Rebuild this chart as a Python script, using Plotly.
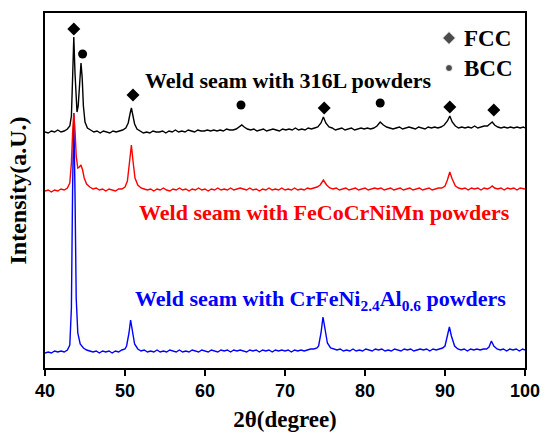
import plotly.graph_objects as go

# ---- data (2theta in degrees, intensity in arbitrary units incl. offset) ----
black_pts = [
    (40.0, 236), (40.4, 235), (40.8, 237), (41.2, 236), (41.6, 238), (42.0, 236), (42.4, 237), (42.8, 239),
    (43.1, 242), (43.3, 252), (43.45, 290), (43.6, 331), (43.75, 295), (43.9, 262), (44.0, 256), (44.15, 262),
    (44.3, 285), (44.5, 305), (44.65, 290), (44.8, 262), (45.0, 246), (45.3, 240), (45.7, 238), (46.1, 236),
    (46.5, 237), (46.9, 235), (47.3, 237), (47.7, 236), (48.1, 235), (48.5, 237), (48.9, 236), (49.3, 237),
    (49.7, 238), (50.1, 240), (50.4, 245), (50.65, 255), (50.8, 260), (50.95, 254), (51.2, 244), (51.5, 239),
    (51.9, 237), (52.3, 235), (52.7, 236), (53.1, 235), (53.5, 237), (53.9, 236), (54.3, 236), (54.7, 237),
    (55.1, 235), (55.5, 237), (55.9, 236), (56.3, 238), (56.7, 236), (57.1, 237), (57.5, 236), (57.9, 238),
    (58.3, 237), (58.7, 236), (59.1, 238), (59.5, 237), (59.9, 237), (60.3, 238), (60.7, 237), (61.1, 238),
    (61.5, 237), (61.9, 238), (62.3, 237), (62.7, 239), (63.1, 238), (63.5, 238), (63.9, 239), (64.3, 241),
    (64.6, 243), (64.9, 241), (65.3, 239), (65.7, 238), (66.1, 239), (66.5, 237), (66.9, 238), (67.3, 239),
    (67.7, 237), (68.1, 238), (68.5, 239), (68.9, 238), (69.3, 237), (69.7, 239), (70.1, 238), (70.5, 239),
    (70.9, 238), (71.3, 240), (71.7, 238), (72.1, 239), (72.5, 238), (72.9, 240), (73.3, 239), (73.7, 240),
    (74.1, 241), (74.5, 245), (74.8, 251), (75.1, 245), (75.5, 241), (75.9, 240), (76.3, 238), (76.7, 239),
    (77.1, 240), (77.5, 238), (77.9, 239), (78.3, 240), (78.7, 238), (79.1, 239), (79.5, 240), (79.9, 239),
    (80.3, 240), (80.7, 239), (81.1, 240), (81.5, 242), (81.9, 246), (82.3, 243), (82.7, 241), (83.1, 240),
    (83.5, 239), (83.9, 240), (84.3, 241), (84.7, 239), (85.1, 240), (85.5, 241), (85.9, 240), (86.3, 239),
    (86.7, 241), (87.1, 240), (87.5, 239), (87.9, 241), (88.3, 240), (88.7, 241), (89.1, 240), (89.5, 241),
    (89.9, 243), (90.3, 247), (90.6, 252), (90.9, 246), (91.3, 242), (91.7, 240), (92.1, 241), (92.5, 240),
    (92.9, 241), (93.3, 240), (93.7, 242), (94.1, 240), (94.5, 241), (94.9, 242), (95.3, 242), (95.6, 244),
    (95.9, 246), (96.2, 243), (96.6, 241), (97.0, 240), (97.4, 241), (97.8, 240), (98.2, 241), (98.6, 240),
    (99.0, 241), (99.4, 240), (99.8, 241), (100.0, 240),
]

red_pts = [
    (40.0, 177), (40.4, 178), (40.8, 176), (41.2, 178), (41.6, 177), (42.0, 179), (42.4, 178), (42.8, 180),
    (43.1, 185), (43.3, 205), (43.45, 235), (43.6, 255), (43.75, 238), (43.9, 212), (44.1, 200), (44.3, 201),
    (44.5, 203), (44.7, 198), (44.9, 190), (45.2, 184), (45.6, 181), (46.0, 179), (46.4, 180), (46.8, 178),
    (47.2, 179), (47.6, 177), (48.0, 179), (48.4, 178), (48.8, 177), (49.2, 179), (49.6, 179), (50.0, 181),
    (50.3, 187), (50.55, 205), (50.8, 223), (51.0, 207), (51.25, 190), (51.6, 183), (52.0, 180), (52.4, 179),
    (52.8, 178), (53.2, 179), (53.6, 177), (54.0, 179), (54.4, 178), (54.8, 180), (55.2, 178), (55.6, 177),
    (56.0, 179), (56.4, 178), (56.8, 180), (57.2, 178), (57.6, 179), (58.0, 177), (58.4, 179), (58.8, 178),
    (59.2, 180), (59.6, 178), (60.0, 179), (60.4, 177), (60.8, 179), (61.2, 178), (61.6, 180), (62.0, 178),
    (62.4, 179), (62.8, 178), (63.2, 180), (63.6, 178), (64.0, 179), (64.4, 180), (64.8, 179), (65.2, 178),
    (65.6, 180), (66.0, 178), (66.4, 179), (66.8, 177), (67.2, 179), (67.6, 178), (68.0, 180), (68.4, 178),
    (68.8, 179), (69.2, 178), (69.6, 180), (70.0, 178), (70.4, 179), (70.8, 178), (71.2, 180), (71.6, 178),
    (72.0, 179), (72.4, 178), (72.8, 180), (73.2, 179), (73.6, 180), (74.0, 181), (74.4, 183), (74.8, 188),
    (75.2, 183), (75.6, 180), (76.0, 179), (76.4, 180), (76.8, 178), (77.2, 179), (77.6, 180), (78.0, 178),
    (78.4, 179), (78.8, 180), (79.2, 178), (79.6, 179), (80.0, 180), (80.4, 178), (80.8, 179), (81.2, 180),
    (81.6, 179), (82.0, 180), (82.4, 178), (82.8, 179), (83.2, 180), (83.6, 178), (84.0, 179), (84.4, 180),
    (84.8, 178), (85.2, 179), (85.6, 180), (86.0, 178), (86.4, 179), (86.8, 180), (87.2, 178), (87.6, 179),
    (88.0, 180), (88.4, 178), (88.8, 179), (89.2, 180), (89.6, 180), (90.0, 182), (90.3, 188), (90.6, 196),
    (90.9, 189), (91.3, 182), (91.7, 180), (92.1, 179), (92.5, 180), (92.9, 178), (93.3, 180), (93.7, 179),
    (94.1, 180), (94.5, 178), (94.9, 180), (95.3, 179), (95.6, 180), (95.9, 182), (96.2, 180), (96.6, 179),
    (97.0, 180), (97.4, 178), (97.8, 180), (98.2, 179), (98.6, 180), (99.0, 178), (99.4, 180), (99.8, 179),
    (100.0, 179),
]

blue_pts = [
    (40.0, 15), (40.4, 16), (40.8, 15), (41.2, 17), (41.6, 16), (42.0, 17), (42.4, 16), (42.8, 18),
    (43.1, 23), (43.3, 60), (43.45, 180), (43.6, 255), (43.75, 175), (43.9, 70), (44.1, 35), (44.4, 24),
    (44.8, 20), (45.2, 18), (45.6, 17), (46.0, 16), (46.4, 17), (46.8, 15), (47.2, 17), (47.6, 16),
    (48.0, 17), (48.4, 15), (48.8, 17), (49.2, 16), (49.6, 18), (50.0, 19), (50.2, 22), (50.5, 35),
    (50.7, 48), (50.9, 38), (51.2, 24), (51.6, 19), (52.0, 17), (52.4, 18), (52.8, 16), (53.2, 17),
    (53.6, 16), (54.0, 18), (54.4, 16), (54.8, 17), (55.2, 16), (55.6, 18), (56.0, 17), (56.4, 16),
    (56.8, 18), (57.2, 16), (57.6, 17), (58.0, 16), (58.4, 18), (58.8, 17), (59.2, 16), (59.6, 18),
    (60.0, 17), (60.4, 16), (60.8, 18), (61.2, 17), (61.6, 16), (62.0, 18), (62.4, 17), (62.8, 18),
    (63.2, 16), (63.6, 18), (64.0, 17), (64.4, 18), (64.8, 17), (65.2, 16), (65.6, 18), (66.0, 17),
    (66.4, 18), (66.8, 16), (67.2, 18), (67.6, 17), (68.0, 18), (68.4, 16), (68.8, 18), (69.2, 17),
    (69.6, 18), (70.0, 17), (70.4, 18), (70.8, 16), (71.2, 18), (71.6, 17), (72.0, 18), (72.4, 17),
    (72.8, 18), (73.2, 19), (73.6, 19), (74.0, 20), (74.2, 22), (74.5, 35), (74.75, 51), (75.0, 38),
    (75.3, 25), (75.7, 20), (76.1, 19), (76.5, 18), (76.9, 19), (77.3, 17), (77.7, 18), (78.1, 17),
    (78.5, 19), (78.9, 17), (79.3, 18), (79.7, 17), (80.1, 19), (80.5, 18), (80.9, 17), (81.3, 19),
    (81.7, 18), (82.1, 19), (82.5, 17), (82.9, 18), (83.3, 17), (83.7, 19), (84.1, 18), (84.5, 17),
    (84.9, 19), (85.3, 18), (85.7, 19), (86.1, 17), (86.5, 18), (86.9, 19), (87.3, 18), (87.7, 19),
    (88.1, 17), (88.5, 19), (88.9, 18), (89.3, 19), (89.7, 20), (90.0, 22), (90.3, 32), (90.55, 41),
    (90.8, 32), (91.2, 22), (91.6, 19), (92.0, 18), (92.4, 19), (92.8, 17), (93.2, 19), (93.6, 18),
    (94.0, 19), (94.4, 18), (94.8, 19), (95.2, 19), (95.5, 21), (95.8, 27), (96.1, 22), (96.5, 19),
    (96.9, 18), (97.3, 19), (97.7, 17), (98.1, 19), (98.5, 18), (98.9, 19), (99.3, 17), (99.7, 19),
    (100.0, 18),
]

fcc_x = [43.6, 51.0, 74.9, 90.6, 96.1]
fcc_y = [339, 273, 260, 261, 258]
bcc_x = [44.7, 64.5, 81.9]
bcc_y = [314, 263, 265]

legend_labels = ["FCC", "BCC"]
legend_x = [90.5, 90.5]
legend_y = [330, 300]

label_texts = [
    "Weld seam with 316L powders",
    "Weld seam with FeCoCrNiMn powders",
    "Weld seam with CrFeNi<sub>2.4</sub>Al<sub>0.6</sub> powders",
]
label_colors = ["black", "red", "blue"]
label_x = [52.25, 51.5, 51.0]
label_y = [288, 156, 68]

SERIF = "Liberation Serif, Times New Roman, serif"
SANS = "Liberation Sans, Arial, sans-serif"

fig = go.Figure()
for pts, col in [(blue_pts, "blue"), (red_pts, "red"), (black_pts, "black")]:
    xs = [p[0] for p in pts]
    ys = [p[1] for p in pts]
    fig.add_trace(go.Scatter(x=xs, y=ys, mode="lines", line=dict(color=col, width=1.4), showlegend=False))

fig.add_trace(go.Scatter(x=fcc_x, y=fcc_y, mode="markers",
                         marker=dict(symbol="diamond", size=10, color="black"), showlegend=False))
fig.add_trace(go.Scatter(x=bcc_x, y=bcc_y, mode="markers",
                         marker=dict(symbol="circle", size=9, color="black"), showlegend=False))
fig.add_trace(go.Scatter(x=legend_x, y=legend_y, mode="markers",
                         marker=dict(symbol=["diamond", "circle"], size=[10, 7], color="black"),
                         showlegend=False))

annotations = []
for t, lx, ly in zip(legend_labels, legend_x, legend_y):
    annotations.append(dict(x=lx + 1.6, y=ly, xref="x", yref="y", text=t, showarrow=False,
                            xanchor="left", yanchor="middle",
                            font=dict(family=SERIF, size=23, color="black", weight="bold")))
for t, c, lx, ly in zip(label_texts, label_colors, label_x, label_y):
    annotations.append(dict(x=lx, y=ly, xref="x", yref="y", text=t, showarrow=False,
                            xanchor="left", yanchor="middle",
                            font=dict(family=SERIF, size=22, color=c, weight="bold")))

fig.update_layout(
    width=545, height=434,
    margin=dict(l=45, r=20, t=13, b=66),
    paper_bgcolor="white", plot_bgcolor="white",
    hovermode=False,
    annotations=annotations,
    xaxis=dict(range=[40, 100], tickvals=[40, 50, 60, 70, 80, 90, 100], automargin=False,
               showline=True, mirror=True, linecolor="black", linewidth=1.5,
               ticks="outside", ticklen=6, tickwidth=1.5, tickcolor="black",
               showgrid=False, zeroline=False,
               tickfont=dict(family=SANS, size=18, color="black", weight="bold"),
               title=dict(text="2θ(degree)", standoff=11,
                          font=dict(family=SERIF, size=23, color="black", weight="bold"))),
    yaxis=dict(range=[0, 355], automargin=False, showline=True, mirror=True, linecolor="black",
               linewidth=1.5, showticklabels=False, ticks="", showgrid=False, zeroline=False,
               title=dict(text="Intensity(a.U.)", standoff=10,
                          font=dict(family=SERIF, size=24, color="black", weight="bold"))),
)

fig.write_html("out.html", config={"displayModeBar": False},
               post_script="document.body.style.margin='0';")
